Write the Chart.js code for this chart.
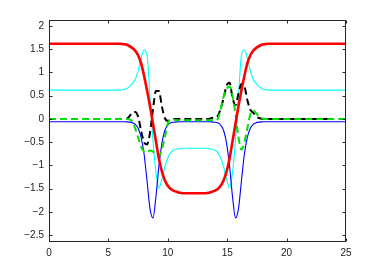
<!DOCTYPE html>
<html><head><meta charset="utf-8">
<script src="https://cdn.jsdelivr.net/npm/chart.js@4"></script>
<style>html,body{margin:0;padding:0;background:#fff;overflow:hidden}</style>
</head><body>
<canvas id="c" width="382" height="273"></canvas>
<script>
const xs = [0,1,2,3,4,5,5.5,
  6,6.25,6.5,6.75,7,7.25,7.5,7.75,8,8.25,8.5,8.75,9,9.25,9.5,9.75,10,10.25,10.5,10.75,11,11.25,11.5,11.75,12,
  12.225,
  12.45,12.7,12.95,13.2,13.45,13.7,13.95,14.2,14.45,14.7,14.95,15.2,15.45,15.7,15.95,16.2,16.45,16.7,16.95,17.2,17.45,17.7,17.95,18.2,18.45,
  18.95,19.5,20,21,22,23,24,25];

const redLine = [1.62,1.62,1.62,1.62,1.62,1.62,1.62,
  1.62,1.61,1.6,1.57,1.53,1.47,1.37,1.2,0.93,0.62,0.28,-0.1,-0.48,-0.85,-1.13,-1.32,-1.44,-1.51,-1.55,-1.57,-1.59,-1.6,-1.6,-1.6,-1.6,
  -1.6,
  -1.6,-1.6,-1.6,-1.6,-1.59,-1.57,-1.55,-1.51,-1.44,-1.32,-1.13,-0.85,-0.48,-0.1,0.28,0.62,0.93,1.2,1.37,1.47,1.53,1.57,1.6,1.61,1.62,
  1.62,1.62,1.62,1.62,1.62,1.62,1.62,1.62];

const cyanLine = [0.62,0.62,0.62,0.62,0.62,0.62,0.62,
  0.62,0.63,0.65,0.69,0.76,0.85,1.03,1.3,1.49,1.38,0.48,-0.45,-1.15,-1.49,-1.3,-1.03,-0.84,-0.72,-0.67,-0.65,-0.64,-0.63,-0.63,-0.63,-0.63,
  -0.63,
  -0.63,-0.63,-0.63,-0.63,-0.64,-0.65,-0.67,-0.72,-0.84,-1.03,-1.3,-1.49,-1.15,-0.45,0.48,1.38,1.49,1.3,1.03,0.85,0.76,0.69,0.65,0.63,0.62,
  0.62,0.62,0.62,0.62,0.62,0.62,0.62,0.62];

const blueLine = [-0.06,-0.06,-0.06,-0.06,-0.06,-0.06,-0.06,
  -0.06,-0.06,-0.063,-0.068,-0.08,-0.115,-0.2,-0.39,-0.75,-1.33,-1.93,-2.13,-1.68,-1.02,-0.53,-0.25,-0.13,-0.085,-0.07,-0.063,-0.06,-0.06,-0.06,-0.06,-0.06,
  -0.06,
  -0.06,-0.06,-0.06,-0.06,-0.06,-0.063,-0.07,-0.085,-0.13,-0.25,-0.53,-1.02,-1.68,-2.13,-1.93,-1.33,-0.75,-0.39,-0.2,-0.115,-0.08,-0.068,-0.063,-0.06,-0.06,
  -0.06,-0.06,-0.06,-0.06,-0.06,-0.06,-0.06,-0.06];

const greenDash = [0,0,0,0,0,0,0,
  0,0,0,-0.01,-0.05,-0.2,-0.4,-0.6,-0.7,-0.72,-0.68,-0.7,-0.78,-0.8,-0.65,-0.4,-0.1,0,-0.01,-0.03,-0.03,-0.03,-0.03,-0.03,-0.03,
  -0.03,
  -0.03,-0.03,-0.03,-0.03,-0.03,-0.03,-0.03,0,0.2,0.48,0.65,0.7,0.5,0.1,-0.4,-0.66,-0.5,-0.2,0.1,0.18,0.12,0.05,0.01,0,0,
  0,0,0,0,0,0,0,0];

const blackDash = [0,0,0,0,0,0,0,
  0,0,0,0.05,0.13,0.15,0.05,-0.25,-0.5,-0.55,-0.3,0.2,0.6,0.6,0.27,0.02,-0.04,-0.02,0,0,0,0,0,0,0,
  0,
  0,0,0,0,0,0.02,0.03,0.06,0.22,0.45,0.72,0.78,0.45,0.3,0.55,0.75,0.7,0.4,0.2,0.13,0.05,0.02,0,0,
  0,0,0,0,0,0,0,0];

const xTicks = [0,5,10,15,20,25];
const yTicks = [-2.5,-2,-1.5,-1,-0.5,0,0.5,1,1.5,2];

function pts(ys){ return xs.map((x,i)=>({x:x, y:ys[i]})); }
function fmt(v){ return String(v).replace('-', '\u2212'); }

const frame = {
  id:'frame',
  afterDatasetsDraw(chart){
    const {ctx, chartArea:a, scales} = chart;
    const X = scales.x, Y = scales.y;
    ctx.save();
    ctx.strokeStyle = '#262626';
    ctx.lineWidth = 1;
    const L = Math.round(a.left)+0.5, R = Math.round(a.right)-0.5, T = Math.round(a.top)+0.5, B = Math.round(a.bottom)-0.5;
    ctx.strokeRect(L, T, R-L, B-T);
    ctx.beginPath();
    const tl = 3;
    xTicks.forEach(v=>{
      const p = Math.round(X.getPixelForValue(v))+0.5;
      ctx.moveTo(p,B); ctx.lineTo(p,B-tl);
      ctx.moveTo(p,T); ctx.lineTo(p,T+tl);
    });
    yTicks.forEach(v=>{
      const p = Math.round(Y.getPixelForValue(v))+0.5;
      ctx.moveTo(L,p); ctx.lineTo(L+tl,p);
      ctx.moveTo(R,p); ctx.lineTo(R-tl,p);
    });
    ctx.stroke();
    ctx.restore();
  }
};

const base = {fill:false, pointRadius:0, cubicInterpolationMode:'monotone'};
new Chart(document.getElementById('c'), {
  type:'line',
  data:{ datasets:[
    Object.assign({data:pts(redLine), borderColor:'#ff0000', borderWidth:2.6}, base),
    Object.assign({data:pts(greenDash), borderColor:'#00e000', borderWidth:2, borderDash:[7,4]}, base),
    Object.assign({data:pts(blackDash), borderColor:'#000000', borderWidth:2, borderDash:[7,4]}, base),
    Object.assign({data:pts(blueLine), borderColor:'#0000ff', borderWidth:1.1}, base),
    Object.assign({data:pts(cyanLine), borderColor:'#00ffff', borderWidth:1.1}, base)
  ]},
  options:{
    responsive:false, animation:false, devicePixelRatio:1,
    layout:{padding:{left:0, right:36, top:20, bottom:0}},
    plugins:{legend:{display:false}, tooltip:{enabled:false}},
    scales:{
      x:{type:'linear', min:0, max:25,
         grid:{display:false, drawTicks:false}, border:{display:false},
         afterBuildTicks:s=>{ s.ticks = xTicks.map(v=>({value:v})); },
         afterFit:s=>{ s.height = 31; },
         ticks:{padding:5, color:'#222', font:{family:'Liberation Sans, Arial, sans-serif', size:10}, callback:v=>fmt(v), maxRotation:0, autoSkip:false}},
      y:{type:'linear', min:-2.65, max:2.13,
         grid:{display:false, drawTicks:false}, border:{display:false},
         afterBuildTicks:s=>{ s.ticks = yTicks.map(v=>({value:v})); },
         afterFit:s=>{ s.width = 49; },
         ticks:{padding:5, color:'#222', font:{family:'Liberation Sans, Arial, sans-serif', size:10}, callback:v=>fmt(v), autoSkip:false}}
    }
  },
  plugins:[frame]
});
</script>
</body></html>
